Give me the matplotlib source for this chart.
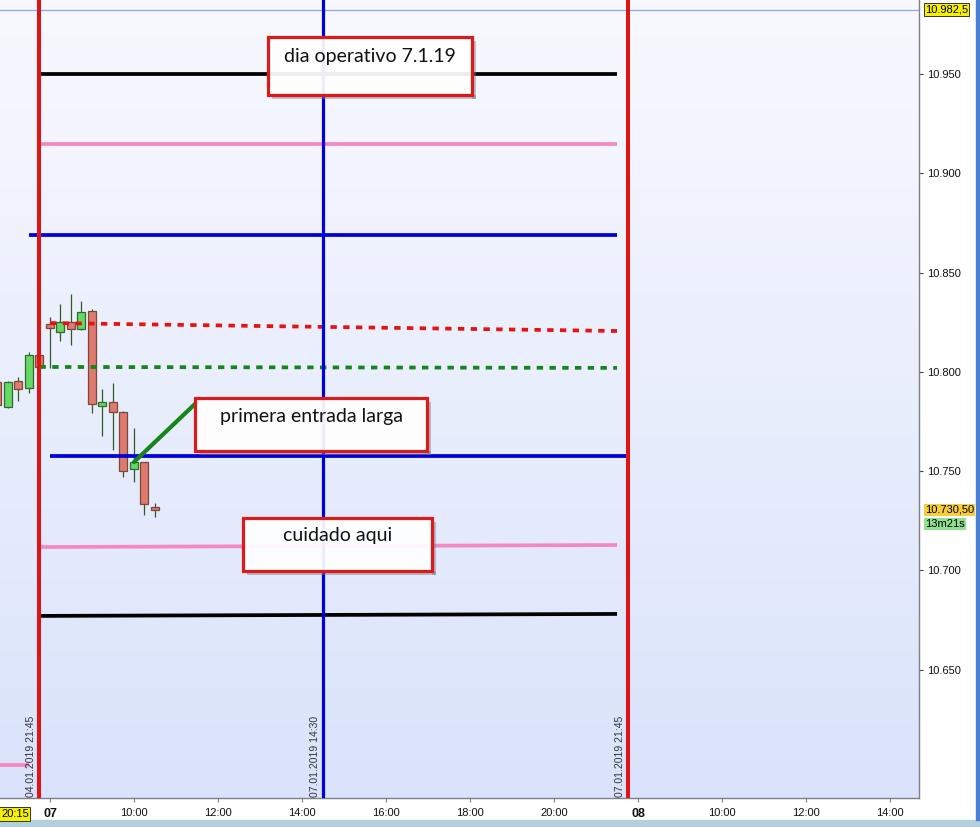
import numpy as np
import matplotlib.pyplot as plt
import matplotlib.patches as mpatches
from matplotlib.ticker import FixedLocator, FuncFormatter

plt.rcParams['font.family'] = ['Liberation Sans', 'DejaVu Sans']

# --- 15 min candles (DAX future), Fri 04.01.2019 close + Mon 07.01.2019 morning ---
candle_time = ["04 20:45", "04 21:00", "04 21:15", "04 21:30", "04 21:45",
               "07 08:00", "07 08:15", "07 08:30", "07 08:45", "07 09:00",
               "07 09:15", "07 09:30", "07 09:45", "07 10:00", "07 10:15", "07 10:30"]
opens  = [10795.0, 10782.5, 10795.4, 10791.7, 10808.5, 10824.0, 10820.3, 10825.0,
          10821.5, 10830.7, 10783.0, 10784.7, 10779.7, 10751.0, 10754.5, 10731.8]
highs  = [10796.0, 10795.5, 10797.6, 10810.2, 10809.0, 10827.8, 10834.2, 10839.2,
          10835.7, 10831.5, 10791.4, 10794.3, 10780.3, 10771.6, 10754.8, 10733.8]
lows   = [10782.0, 10782.0, 10785.5, 10789.2, 10801.5, 10801.8, 10815.7, 10813.6,
          10821.1, 10779.5, 10767.9, 10760.7, 10747.2, 10744.4, 10728.0, 10727.1]
closes = [10783.5, 10795.0, 10791.2, 10808.5, 10802.3, 10822.0, 10825.3, 10821.5,
          10830.0, 10783.7, 10784.7, 10780.0, 10750.3, 10754.5, 10733.3, 10730.5]

# --- drawn levels ---
level_name  = ["black_hi", "pink_hi", "blue_hi", "red_dot", "green_dot",
               "blue_lo", "pink_lo", "black_lo", "pink_old"]
level_start = ["04 21:45", "04 21:45", "04 21:30", "07 08:00", "04 21:45",
               "07 08:00", "04 21:45", "04 21:45", "04 19:00"]
level_end   = ["07 21:30", "07 21:30", "07 21:30", "07 21:30", "07 21:30",
               "07 21:45", "07 21:30", "07 21:30", "04 21:30"]
level_p0    = [10950.0, 10915.0, 10869.0, 10824.6, 10802.5,
               10757.5, 10711.8, 10677.1, 10602.0]
level_p1    = [10950.0, 10915.0, 10869.0, 10820.6, 10802.0,
               10757.5, 10712.8, 10678.1, 10602.0]

vline_time  = ["04 21:45", "07 14:30", "07 21:45"]
vline_label = ["04.01.2019 21:45", "07.01.2019 14:30", "07.01.2019 21:45"]

note_text   = ["dia operativo 7.1.19", "primera entrada larga", "cuidado aqui"]
note_x0     = ["07 13:11", "07 11:27", "07 12:36"]
note_x1     = ["07 18:03", "07 16:59", "07 17:06"]
note_p0     = [10939.4, 10760.2, 10699.8]
note_p1     = [10968.8, 10786.7, 10726.4]

arrow_from  = ("07 10:00", 10754.6)
arrow_to    = ("07 11:30", 10784.8)

cursor_price = 10982.5
last_price   = 10730.5
bar_timer    = "13m21s"
cursor_time  = "20:15"

xtick_time  = ["07 08:00", "07 10:00", "07 12:00", "07 14:00", "07 16:00", "07 18:00",
               "07 20:00", "08 08:00", "08 10:00", "08 12:00", "08 14:00"]
xtick_label = ["07", "10:00", "12:00", "14:00", "16:00", "18:00", "20:00",
               "08", "10:00", "12:00", "14:00"]
ytick_vals  = [10650, 10700, 10750, 10800, 10850, 10900, 10950]


def sx(stamp):
    # compressed session axis (08:00-22:00), hours from 07.01 08:00
    day, hm = stamp.split()
    hh, mm = map(int, hm.split(":"))
    t = hh + mm / 60.0
    if day == "04":
        return t - 22.0
    if day == "07":
        return t - 8.0
    return 14.0 + t - 8.0


def de_num(v, nd):
    # 10982.5 -> "10.982,5"
    return f"{v:,.{nd}f}".replace(",", "X").replace(".", ",").replace("X", ".")


LEVEL_STYLE = {
    "black_hi":  dict(color="#000000", ls="-"),
    "pink_hi":   dict(color="#f487c4", ls="-"),
    "blue_hi":   dict(color="#0000dd", ls="-"),
    "red_dot":   dict(color="#e41414", ls=(0, (1.7, 1.7))),
    "green_dot": dict(color="#14861a", ls=(0, (1.7, 1.7))),
    "blue_lo":   dict(color="#0000dd", ls="-"),
    "pink_lo":   dict(color="#f487c4", ls="-"),
    "black_lo":  dict(color="#000000", ls="-"),
    "pink_old":  dict(color="#f487c4", ls="-"),
}
VLINE_COLORS = ["#e01414", "#0000e0", "#e01414"]

fig = plt.figure(figsize=(9.8, 8.27), dpi=100)
ax = fig.add_axes([0.0, 29 / 827, 919 / 980, 798 / 827])

xlo, xhi = -1.19, 20.69
ylo, yhi = 10585.4, 10987.3
px_x = (xhi - xlo) / 919.0   # data units per pixel
px_y = (yhi - ylo) / 798.0

# background gradient
grad = np.linspace(0, 1, 256)[:, None]
top = np.array([248, 249, 255]) / 255
bot = np.array([218, 227, 251]) / 255
img = top[None, None, :] * (1 - grad[:, :, None]) + bot[None, None, :] * grad[:, :, None]
ax.imshow(img, extent=[0, 1, 0, 1], transform=ax.transAxes, aspect="auto", zorder=0)

# cursor crosshair
ax.axhline(cursor_price, color="#8ea6e2", lw=0.9, zorder=1)

# candles
cx = np.array([sx(t) for t in candle_time])
o, h, l, c = map(np.array, (opens, highs, lows, closes))
up = c >= o
ax.vlines(cx, l, h, color="#2d5a26", lw=0.9, zorder=2)
ax.bar(cx[up], (c - o)[up], bottom=o[up], width=0.19, color="#66d866",
       edgecolor="#2d6a2d", lw=0.9, zorder=3)
ax.bar(cx[~up], (o - c)[~up], bottom=c[~up], width=0.19, color="#e07a6e",
       edgecolor="#7a4a38", lw=0.9, zorder=3)

# levels
for name, t0, t1, p0, p1 in zip(level_name, level_start, level_end, level_p0, level_p1):
    st = LEVEL_STYLE[name]
    ax.plot([sx(t0), sx(t1)], [p0, p1], color=st["color"], ls=st["ls"], lw=2.7,
            solid_capstyle="butt", zorder=4)

# vertical time lines
for t, lab, col in zip(vline_time, vline_label, VLINE_COLORS):
    ax.axvline(sx(t), color=col, lw=2.9 if col == "#e01414" else 2.3, zorder=5)
    ax.annotate(lab, xy=(sx(t), 0.0), xycoords=("data", "axes fraction"),
                xytext=(-3, 1), textcoords="offset pixels", rotation=90,
                ha="right", va="bottom", fontsize=7.5, color="#333333", zorder=6)

# trade arrow
ax.plot([sx(arrow_from[0]), sx(arrow_to[0])], [arrow_from[1], arrow_to[1]],
        color="#14861a", lw=3.0, solid_capstyle="round", zorder=6)

# note boxes (shadow only outside the box so the face stays clean)
sh = 4
for txt, t0, t1, p0, p1 in zip(note_text, note_x0, note_x1, note_p0, note_p1):
    x0, x1 = sx(t0), sx(t1)
    dx, dy = sh * px_x, sh * px_y
    ax.add_patch(mpatches.Rectangle((x1, p0 - dy), dx, p1 - p0, facecolor="#7a7a88",
                                    alpha=0.45, lw=0, zorder=6.5))
    ax.add_patch(mpatches.Rectangle((x0 + dx, p0 - dy), x1 - x0, dy, facecolor="#7a7a88",
                                    alpha=0.45, lw=0, zorder=6.5))
    ax.add_patch(mpatches.Rectangle((x0, p0), x1 - x0, p1 - p0, facecolor=(1, 1, 1, 0.93),
                                    edgecolor="#dd1a1a", lw=2.3, zorder=7))
    ax.text((x0 + x1) / 2, p1 - (p1 - p0) * 0.34, txt, ha="center", va="center",
            fontsize=14, family=["Lato", "DejaVu Sans"], color="#111111", zorder=8)

ax.set_xlim(xlo, xhi)
ax.set_ylim(ylo, yhi)

# axes styling
for side in ("left", "top"):
    ax.spines[side].set_visible(False)
for side in ("right", "bottom"):
    ax.spines[side].set_color("#7f7f8a")
    ax.spines[side].set_linewidth(1.0)

ax.yaxis.tick_right()
ax.yaxis.set_major_locator(FixedLocator(ytick_vals))
ax.yaxis.set_major_formatter(FuncFormatter(lambda v, _: f"{v:,.0f}".replace(",", ".")))
ax.tick_params(axis="y", direction="out", length=3, width=0.8, color="#444444",
               pad=3, labelsize=8, labelcolor="#111111")

ax.xaxis.set_major_locator(FixedLocator([sx(t) for t in xtick_time]))
ax.set_xticklabels(xtick_label)
ax.tick_params(axis="x", direction="out", length=3, width=0.8, color="#7f7f8a",
               pad=4, labelsize=8, labelcolor="#111111")
for lab in ax.get_xticklabels():
    if ":" not in lab.get_text():
        lab.set_fontweight("bold")
        lab.set_fontsize(9)

# price / time tags on the axes
ax.annotate(de_num(cursor_price, 1), xy=(1.0, cursor_price), xycoords=("axes fraction", "data"),
            xytext=(6, 0), textcoords="offset pixels", ha="left", va="center",
            fontsize=8, annotation_clip=False,
            bbox=dict(boxstyle="square,pad=0.12", fc="#f4f000", ec="#333333", lw=0.7))
ax.annotate(de_num(last_price, 2), xy=(1.0, last_price), xycoords=("axes fraction", "data"),
            xytext=(6, 0), textcoords="offset pixels", ha="left", va="center",
            fontsize=8, annotation_clip=False,
            bbox=dict(boxstyle="square,pad=0.12", fc="#f6cd3a", ec="none"))
ax.annotate(bar_timer, xy=(1.0, last_price), xycoords=("axes fraction", "data"),
            xytext=(6, -14), textcoords="offset pixels", ha="left", va="center",
            fontsize=8, annotation_clip=False,
            bbox=dict(boxstyle="square,pad=0.12", fc="#8fe08f", ec="none"))
fig.text(1 / 980, 1 - 814 / 827, cursor_time, ha="left", va="center", fontsize=8,
         bbox=dict(boxstyle="square,pad=0.15", fc="#f4f000", ec="#333333", lw=0.7))

# window frame bits
fig.patches.append(mpatches.Rectangle((0, 0), 1, 7 / 827, transform=fig.transFigure,
                                      color="#b4d0dc", zorder=0))
fig.patches.append(mpatches.Rectangle((976 / 980, 7 / 827), 4 / 980, 820 / 827,
                                      transform=fig.transFigure, color="#4b7fd6", zorder=0))

fig.savefig("out.png", dpi=100)
